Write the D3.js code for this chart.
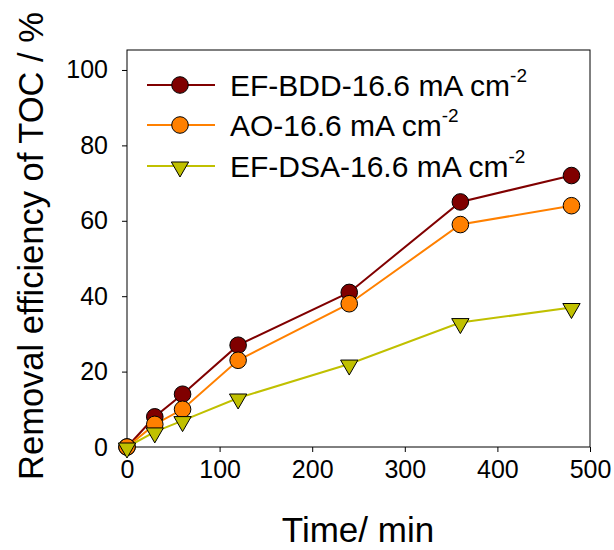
<!DOCTYPE html>
<html>
<head>
<meta charset="utf-8">
<script src="https://cdn.jsdelivr.net/npm/d3@7"></script>
<style>
  body { margin: 0; background: #fff; }
  text { font-family: Arial, "Liberation Sans", sans-serif; fill: #000; }
</style>
</head>
<body>
<script>
// ---------------- data ----------------
var times = [0, 30, 60, 120, 240, 360, 480]
var efBdd = [0, 8, 14, 27, 41, 65, 72]
var ao = [0, 6, 10, 23, 38, 59, 64]
var efDsa = [0, 4, 7, 13, 22, 33, 37]
var seriesNames = ['EF-BDD-16.6 mA cm', 'AO-16.6 mA cm', 'EF-DSA-16.6 mA cm']
var xTicks = [0, 100, 200, 300, 400, 500]
var yTicks = [0, 20, 40, 60, 80, 100]

var series = [
  {name: seriesNames[0], values: efBdd, color: '#800000', shape: 'circle'},
  {name: seriesNames[1], values: ao, color: '#FF8000', shape: 'circle'},
  {name: seriesNames[2], values: efDsa, color: '#C0C000', shape: 'triangle'}
]

// ---------------- svg ----------------
var width = 614, height = 550
var svg = d3.select('body').append('svg')
  .attr('width', width)
  .attr('height', height)

// plot box (note: "top" is taken by window.top, so use other names)
var pLeft = 127, pRight = 590, pTop = 50, pBottom = 447

var x = d3.scaleLinear().domain([0, 500]).range([pLeft, pRight])
var y = d3.scaleLinear().domain([0, 105.3]).range([pBottom, pTop])

// frame
svg.append('rect')
  .attr('x', pLeft).attr('y', pTop)
  .attr('width', pRight - pLeft).attr('height', pBottom - pTop)
  .attr('fill', 'none').attr('stroke', '#000').attr('stroke-width', 1)

// axes
var xAxis = svg.append('g')
  .attr('transform', 'translate(0,' + pBottom + ')')
  .call(d3.axisBottom(x).tickValues(xTicks).tickSize(5).tickPadding(8))
var yAxis = svg.append('g')
  .attr('transform', 'translate(' + pLeft + ',0)')
  .call(d3.axisLeft(y).tickValues(yTicks).tickSize(5).tickPadding(14))

;[xAxis, yAxis].forEach(function(a){
  a.select('.domain').remove()
  a.attr('font-size', 25).attr('font-family', 'Arial, "Liberation Sans", sans-serif')
})

// axis titles
svg.append('text')
  .attr('x', 358)
  .attr('y', 542)
  .attr('text-anchor', 'middle')
  .attr('font-size', 35)
  .text('Time/ min')

svg.append('text')
  .attr('transform', 'translate(43,246) rotate(-90)')
  .attr('text-anchor', 'middle')
  .attr('font-size', 34.5)
  .text('Removal efficiency of TOC / %')

// ---------------- lines & markers ----------------
var line = d3.line()
  .x(function(d, i){ return x(times[i]) })
  .y(function(d){ return y(d) })

var tri = d3.symbol().type(d3.symbolTriangle).size(130)

function drawMarker(g, s, cx, cy) {
  if (s.shape === 'circle') {
    g.append('circle')
      .attr('cx', cx).attr('cy', cy).attr('r', 8.3)
      .attr('fill', s.color).attr('stroke', '#000').attr('stroke-width', 1)
  } else {
    g.append('path')
      .attr('d', tri)
      .attr('transform', 'translate(' + cx + ',' + (cy + 1) + ') rotate(180)')
      .attr('fill', s.color).attr('stroke', '#000').attr('stroke-width', 1)
  }
}

// lines first, then markers (BDD at the back, DSA in front)
series.forEach(function(s){
  svg.append('path')
    .attr('d', line(s.values))
    .attr('fill', 'none')
    .attr('stroke', s.color)
    .attr('stroke-width', 2)
})
series.forEach(function(s){
  var g = svg.append('g')
  s.values.forEach(function(v, i){
    drawMarker(g, s, x(times[i]), y(v))
  })
})

// ---------------- legend ----------------
var legendY = [85, 125, 166]
series.forEach(function(s, i){
  var g = svg.append('g')
  g.append('line')
    .attr('x1', 147).attr('x2', 215)
    .attr('y1', legendY[i]).attr('y2', legendY[i])
    .attr('stroke', s.color).attr('stroke-width', 2)
  drawMarker(g, s, 180, legendY[i])
  var t = g.append('text')
    .attr('x', 230).attr('y', legendY[i] + 11)
    .attr('font-size', 30)
  t.append('tspan').text(s.name)
  t.append('tspan').attr('font-size', 19).attr('dy', -14).text('-2')
})
</script>
</body>
</html>
